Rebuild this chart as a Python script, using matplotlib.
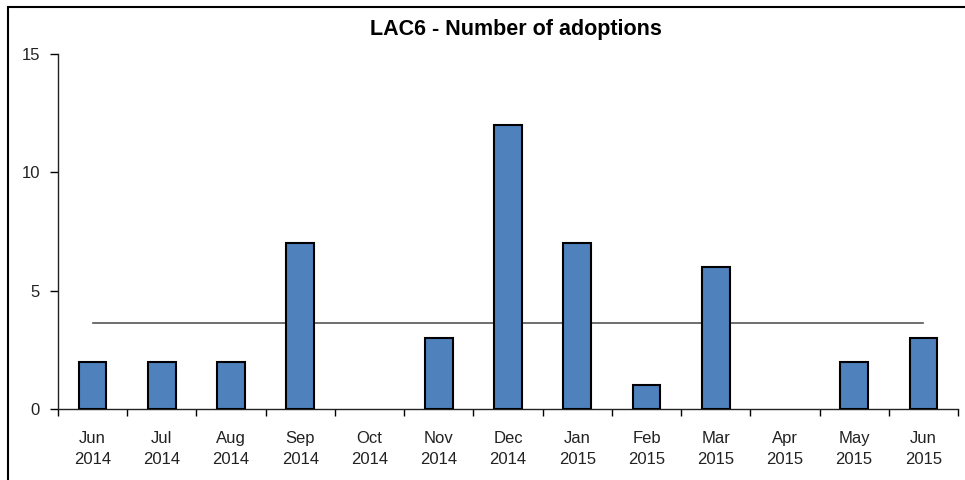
import matplotlib
matplotlib.use("Agg")
import matplotlib.pyplot as plt
import numpy as np
from matplotlib.patches import Rectangle

plt.rcParams['font.family'] = ['Liberation Sans', 'DejaVu Sans']

months = ["Jun\n2014", "Jul\n2014", "Aug\n2014", "Sep\n2014", "Oct\n2014", "Nov\n2014",
          "Dec\n2014", "Jan\n2015", "Feb\n2015", "Mar\n2015", "Apr\n2015", "May\n2015", "Jun\n2015"]
adoptions = [2, 2, 2, 7, 0, 3, 12, 7, 1, 6, 0, 2, 3]
mean_value = sum(adoptions) / len(adoptions)

fig = plt.figure(figsize=(9.65, 4.8), dpi=100)
ax = fig.add_axes([58/965, 1-409/480, 900/965, 355/480])

x = np.arange(len(months))
bars = ax.bar(x, adoptions, width=0.4, color='#4F81BD', edgecolor='black', linewidth=1.5, zorder=3)
for b, v in zip(bars, adoptions):
    if v == 0:
        b.set_visible(False)
ax.plot([x[0], x[-1]], [mean_value, mean_value], color='#555555', linewidth=1.2, zorder=2)

ax.set_xlim(-0.5, len(months) - 0.5)
ax.set_ylim(0, 15)
ax.set_yticks([0, 5, 10, 15])
ax.set_xticks(x)
ax.set_xticklabels(months, fontsize=12, color='#222222', linespacing=1.45)
ax.set_xticks(np.arange(-0.5, len(months)), minor=True)
ax.tick_params(axis='x', which='major', length=0, pad=16)
ax.tick_params(axis='x', which='minor', length=5, width=1, direction='out')
ax.tick_params(axis='y', length=6, width=1, direction='out', labelsize=12, labelcolor='#222222', pad=7)

for s in ['top', 'right']:
    ax.spines[s].set_visible(False)
for s in ['left', 'bottom']:
    ax.spines[s].set_linewidth(1)
    ax.spines[s].set_color('#222222')

fig.text(516/965, 1 - 30/480, "LAC6 - Number of adoptions",
         ha='center', va='center', fontsize=15.5, fontweight='bold')

fig.patches.append(Rectangle((8/965, -0.1), 2, 1 - 7/480 + 0.1, transform=fig.transFigure,
                             fill=False, edgecolor='black', linewidth=1.5))

fig.savefig("out.png", dpi=100)
